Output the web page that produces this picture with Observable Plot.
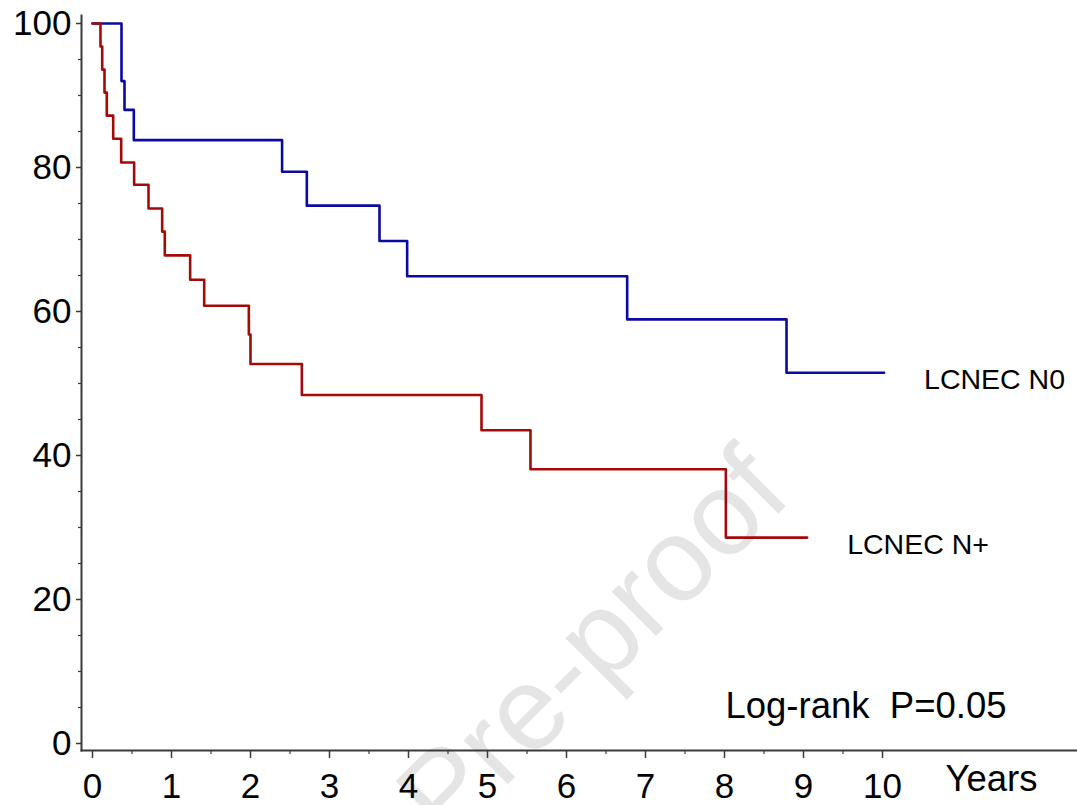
<!DOCTYPE html>
<html>
<head>
<meta charset="utf-8">
<script src="https://cdn.jsdelivr.net/npm/d3@7"></script>
<script src="https://cdn.jsdelivr.net/npm/@observablehq/plot@0.6"></script>
<style>
  html, body { margin: 0; padding: 0; background: #fff; }
  #chart svg { display: block; }
</style>
</head>
<body>
<div id="chart"></div>
<script>
// ---- data ----
const n0Times = [0, 0.367, 0.405, 0.523, 2.40, 2.713, 3.633, 3.983, 6.768, 8.785, 10.02];
const n0Surv  = [100, 92.0, 88.0, 83.8, 79.4, 74.7, 69.8, 64.9, 58.9, 51.5, 51.5];

const npTimes = [0, 0.101, 0.123, 0.152, 0.181, 0.262, 0.363, 0.527, 0.709, 0.882, 0.915, 1.236, 1.414, 1.979, 2.0, 2.65, 4.924, 5.544, 8.017, 9.046];
const npSurv  = [100, 96.8, 93.6, 90.4, 87.2, 84.0, 80.7, 77.6, 74.3, 71.1, 67.8, 64.4, 60.8, 56.8, 52.7, 48.4, 43.5, 38.1, 28.6, 28.6];

const seriesNames = ["LCNEC N0", "LCNEC N+"];
const xTicks = [0, 1, 2, 3, 4, 5, 6, 7, 8, 9, 10];
const xMinorTicks = [0.5, 1.5, 2.5, 3.5, 4.5, 5.5, 6.5, 7.5, 8.5, 9.5];
const yTicks = [0, 20, 40, 60, 80, 100];
const yMinorTicks = [5, 10, 15, 25, 30, 35, 45, 50, 55, 65, 70, 75, 85, 90, 95];
const annotation = "Log-rank\u00a0\u00a0P=0.05";
const xAxisTitle = "Years";
const watermark = "Pre-proof";

// ---- tables built from the arrays ----
const n0 = n0Times.map((t, i) => ({t, s: n0Surv[i], g: seriesNames[0]}));
const np = npTimes.map((t, i) => ({t, s: npSurv[i], g: seriesNames[1]}));
const ends = [n0[n0.length - 1], np[np.length - 1]];

const font = "'Liberation Sans', Arial, Helvetica, sans-serif";
const axisColor = "#3a3a3a";
const blue = "#0a0aa3";
const red = "#a30a0a";

const chart = Plot.plot({
  width: 1077,
  height: 805,
  marginLeft: 81,
  marginRight: 0,
  marginTop: 15,
  marginBottom: 55,
  style: {fontFamily: font, background: "#fff", color: "#000"},
  x: {domain: [-11 / 79, 985 / 79]},
  y: {domain: [-7 / 7.2, 728 / 7.2]},
  marks: [
    Plot.text([watermark], {
      text: d => d, frameAnchor: "middle", dx: 14, dy: 262, rotate: -45,
      fontSize: 118, fill: "#e5e5e5", fontFamily: font
    }),
    Plot.frame({anchor: "left", stroke: axisColor, strokeWidth: 2}),
    Plot.frame({anchor: "bottom", stroke: axisColor, strokeWidth: 2}),
    Plot.axisX(xTicks, {tickSize: 8, tickPadding: 15, fontSize: 35, stroke: axisColor, strokeWidth: 1.5, fill: "#000", label: null}),
    Plot.axisX(xMinorTicks, {tickSize: 4, stroke: axisColor, strokeWidth: 1.2, fill: "none", label: null}),
    Plot.axisY(yTicks, {tickSize: 5, tickPadding: 5, fontSize: 35, stroke: axisColor, strokeWidth: 1.5, fill: "#000", label: null}),
    Plot.axisY(yMinorTicks, {tickSize: 3, stroke: axisColor, strokeWidth: 1.2, fill: "none", label: null}),
    Plot.line(n0, {x: "t", y: "s", curve: "step-after", stroke: blue, strokeWidth: 2.6}),
    Plot.line(np, {x: "t", y: "s", curve: "step-after", stroke: red, strokeWidth: 2.6}),
    Plot.text(ends, {x: "t", y: "s", text: "g", dx: 40, dy: 7, textAnchor: "start", fontSize: 28.5, fill: "#000"}),
    Plot.text([annotation], {text: d => d, frameAnchor: "bottom-right", dx: -71, dy: -33, textAnchor: "end", fontSize: 36.5, fill: "#000"}),
    Plot.text([xAxisTitle], {text: d => d, frameAnchor: "bottom-right", dx: -40, dy: 40, textAnchor: "end", fontSize: 36.5, fill: "#000"})
  ]
});
document.getElementById("chart").appendChild(chart);
</script>
</body>
</html>
